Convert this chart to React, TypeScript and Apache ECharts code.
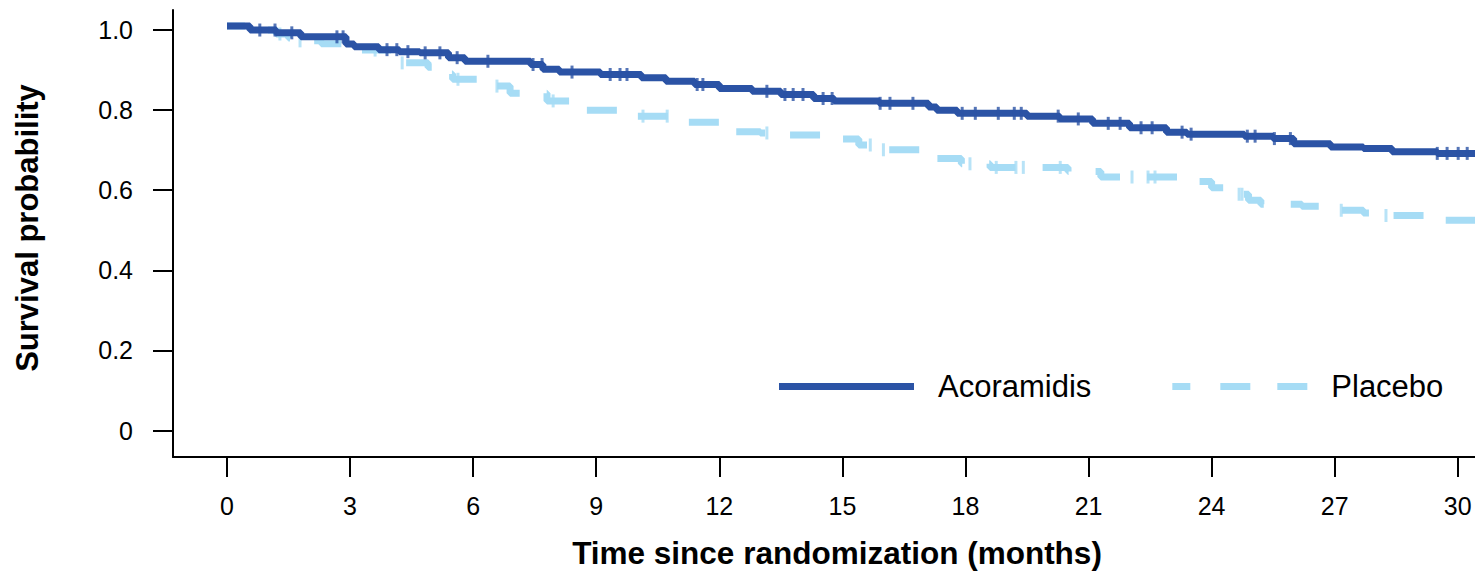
import React, { useEffect, useRef } from "react";
import * as echarts from "echarts";

const FONT = '"Liberation Sans", Arial, Helvetica, sans-serif';
const DARK = "#2B53A5";
const LIGHT = "#A6DCF5";

const monthTicks = [0, 3, 6, 9, 12, 15, 18, 21, 24, 27, 30];
const probTicks = [0, 0.2, 0.4, 0.6, 0.8, 1.0];

const acoTimes = [0, 0.56, 1.2, 1.8, 2.9, 3.1, 3.7, 4.2, 4.7, 5.4, 5.8, 7.4, 7.7, 8.1, 9.1, 10.1, 10.7, 11.4, 12.0, 12.8, 13.5, 14.3, 14.8, 15.9, 17.1, 17.3, 17.8, 19.5, 20.3, 21.1, 22.0, 22.9, 23.4, 24.8, 25.5, 26.0, 26.9, 27.7, 28.4, 29.5, 30.42];
const acoSurv = [1.01, 1.0, 0.993, 0.983, 0.965, 0.958, 0.951, 0.946, 0.943, 0.931, 0.922, 0.914, 0.902, 0.895, 0.889, 0.881, 0.872, 0.864, 0.854, 0.847, 0.839, 0.829, 0.823, 0.817, 0.808, 0.8, 0.792, 0.785, 0.778, 0.767, 0.756, 0.745, 0.74, 0.735, 0.729, 0.716, 0.708, 0.704, 0.696, 0.692, 0.692];

const plaTimes = [0, 0.56, 1.2, 1.5, 1.6, 2.3, 3.2, 4.0, 4.9, 5.0, 5.5, 6.2, 6.9, 7.8, 8.4, 9.8, 11.1, 12.3, 13.0, 13.6, 14.5, 15.4, 15.9, 16.9, 17.2, 17.9, 18.6, 20.5, 21.3, 23.2, 24.0, 24.5, 24.9, 25.2, 26.2, 26.8, 27.7, 28.2, 29.3, 29.6, 30.42];
const plaSurv = [1.01, 1.0, 0.99, 0.98, 0.973, 0.966, 0.95, 0.918, 0.907, 0.89, 0.877, 0.86, 0.842, 0.823, 0.8, 0.785, 0.77, 0.746, 0.743, 0.738, 0.728, 0.713, 0.701, 0.69, 0.679, 0.666, 0.657, 0.647, 0.633, 0.622, 0.606, 0.59, 0.575, 0.565, 0.56, 0.55, 0.543, 0.537, 0.53, 0.525, 0.525];

const acoCensor = [0.8, 1.17, 1.58, 2.68, 2.83, 3.9, 4.14, 4.41, 4.83, 5.19, 5.61, 6.36, 7.46, 7.68, 8.41, 9.34, 9.58, 9.75, 11.46, 11.6, 13.16, 13.6, 13.8, 14.04, 14.53, 14.75, 15.92, 16.16, 16.72, 17.92, 18.24, 18.8, 19.19, 19.36, 20.26, 20.75, 21.48, 21.77, 22.28, 22.55, 23.28, 23.5, 24.87, 25.06, 25.53, 25.92, 29.5, 29.74, 30.01, 30.23];
const plaCensor = [1.29, 1.78, 3.61, 4.27, 5.63, 6.58, 7.95, 10.14, 10.73, 13.16, 15.68, 16.0, 18.11, 18.75, 19.23, 19.41, 20.31, 22.06, 22.45, 22.62, 24.67, 24.74, 27.16, 28.25];

function survAt(times: number[], surv: number[], t: number): number {
  let v = surv[0];
  for (let i = 0; i < times.length; i++) {
    if (times[i] <= t) v = surv[i];
    else break;
  }
  return v;
}

const SOLID_ICON = "path://M0,0h135v7h-135z";
const DASH_ICON = "path://M0,0h18v7h-18zM48,0h30v7h-30zM105,0h30v7h-30z";

export default function App() {
  const ref = useRef<HTMLDivElement>(null);
  useEffect(() => {
    if (!ref.current) return;
    document.body.style.margin = "0";
    const chart = echarts.init(ref.current, undefined, { renderer: "svg" });
    const option: any = {
      animation: false,
      backgroundColor: "#fff",
      grid: { left: 173, right: 0, top: 10, bottom: 114, containLabel: false },
      legend: {
        data: [
          { name: "Acoramidis", icon: SOLID_ICON },
          { name: "Placebo", icon: DASH_ICON },
        ],
        left: 774,
        top: 366,
        itemWidth: 135,
        itemHeight: 7,
        itemGap: 81,
        textStyle: { fontSize: 31, color: "#000", fontFamily: FONT, padding: [0, 0, 0, 19] },
      },
      xAxis: {
        type: "value",
        min: -1.316,
        max: 30.42,
        axisLine: { show: true, onZero: false, lineStyle: { color: "#000", width: 2 } },
        axisTick: { show: true, length: 20, customValues: monthTicks, lineStyle: { color: "#000", width: 2 } },
        axisLabel: { customValues: monthTicks, fontSize: 25, color: "#000", fontFamily: FONT, margin: 36 },
        splitLine: { show: false },
        name: "Time since randomization (months)",
        nameLocation: "middle",
        nameGap: 80,
        nameTextStyle: { fontSize: 31.5, fontWeight: "bold", color: "#000", fontFamily: FONT, padding: [0, 0, 0, 26] },
      },
      yAxis: {
        type: "value",
        min: -0.066,
        max: 1.05,
        axisLine: { show: true, onZero: false, lineStyle: { color: "#000", width: 2 } },
        axisTick: { show: true, length: 20, customValues: probTicks, lineStyle: { color: "#000", width: 2 } },
        axisLabel: {
          customValues: probTicks,
          fontSize: 25,
          color: "#000",
          fontFamily: FONT,
          margin: 40,
          formatter: (v: number) => (v === 0 ? "0" : v.toFixed(1)),
        },
        splitLine: { show: false },
        name: "Survival probability",
        nameLocation: "middle",
        nameGap: 130,
        nameTextStyle: { fontSize: 31, fontWeight: "bold", color: "#000", fontFamily: FONT, padding: [0, 0, 0, 11] },
      },
      series: [
        {
          type: "line",
          name: "Placebo",
          data: plaTimes.map((t, i) => [t, plaSurv[i]]),
          step: "end",
          symbol: "none",
          lineStyle: { color: LIGHT, width: 7, type: [30, 27], dashOffset: 12, cap: "butt" },
          itemStyle: { color: LIGHT },
          z: 2,
        },
        {
          type: "line",
          name: "Acoramidis",
          data: acoTimes.map((t, i) => [t, acoSurv[i]]),
          step: "end",
          symbol: "none",
          lineStyle: { color: DARK, width: 7, cap: "butt" },
          itemStyle: { color: DARK },
          z: 3,
        },
        {
          type: "scatter",
          name: "Placebo censored",
          data: plaCensor.map((t) => [t, survAt(plaTimes, plaSurv, t)]),
          symbol: "rect",
          symbolSize: [3, 13],
          itemStyle: { color: LIGHT },
          silent: true,
          z: 2,
        },
        {
          type: "scatter",
          name: "Acoramidis censored",
          data: acoCensor.map((t) => [t, survAt(acoTimes, acoSurv, t)]),
          symbol: "rect",
          symbolSize: [3, 13],
          itemStyle: { color: DARK },
          silent: true,
          z: 4,
        },
      ],
    };
    chart.setOption(option);
    return () => chart.dispose();
  }, []);
  return <div ref={ref} style={{ width: 1475, height: 574 }} />;
}
